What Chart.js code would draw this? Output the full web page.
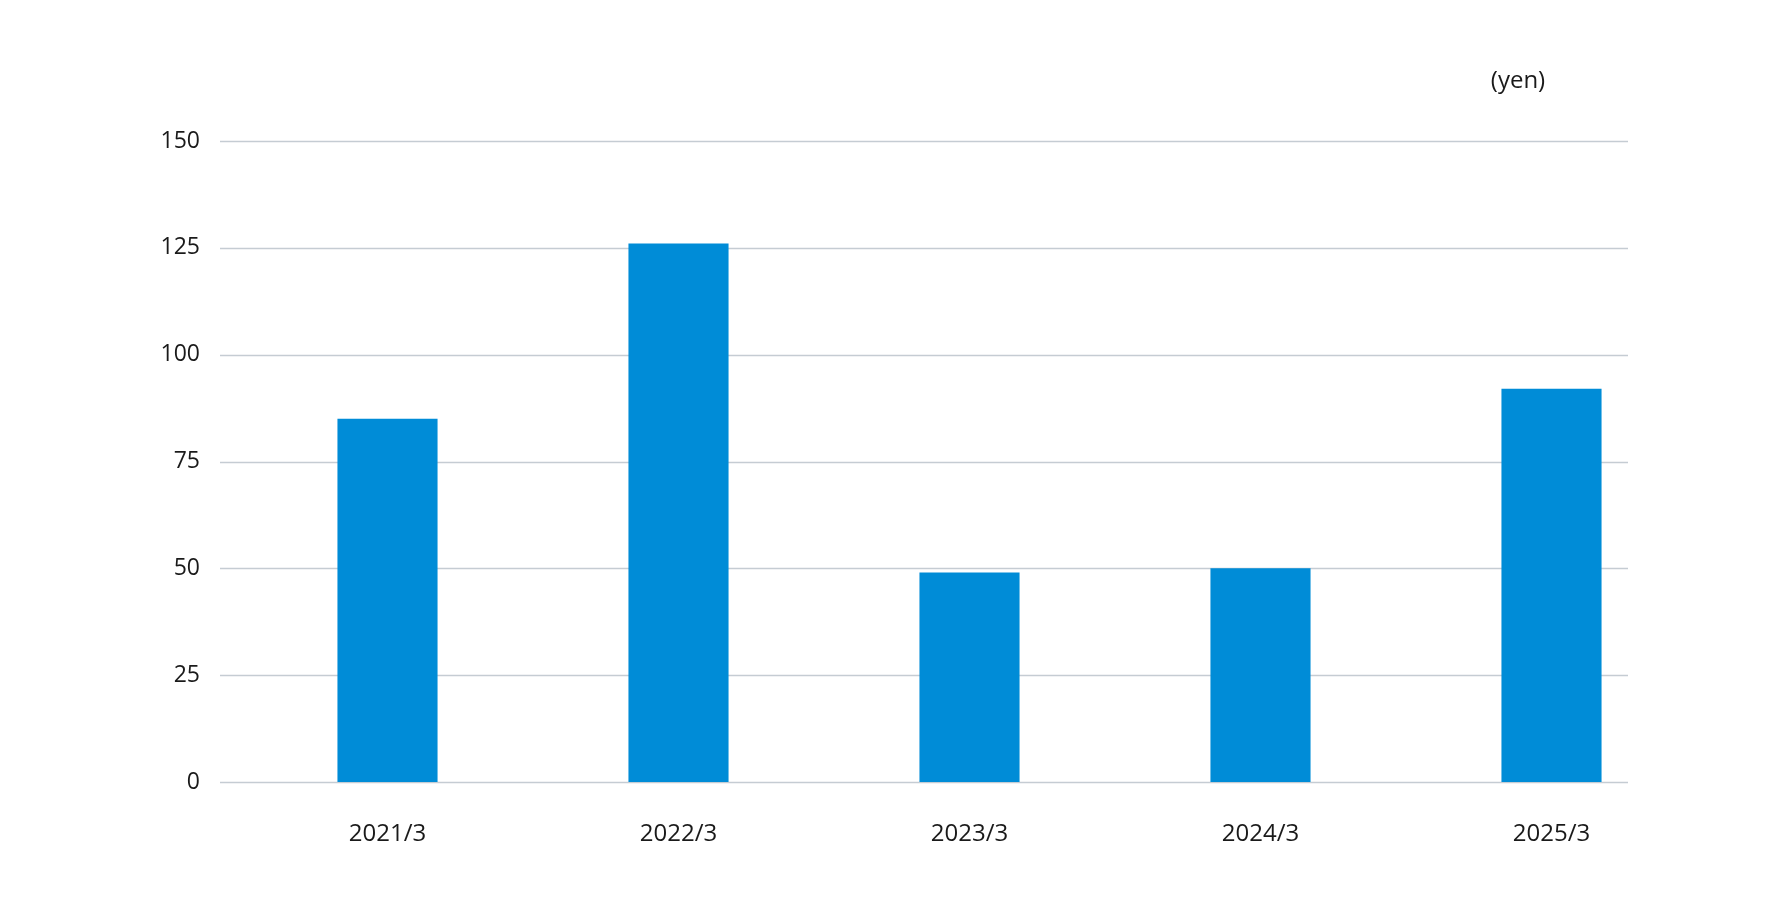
<!DOCTYPE html>
<html><head><meta charset="utf-8">
<script src="https://cdn.jsdelivr.net/npm/chart.js@4/dist/chart.umd.min.js"></script>
<style>html,body{margin:0;padding:0;background:#fff}#w{width:1780px;height:910px;position:relative}</style>
</head><body><div id="w"><canvas id="c"></canvas></div>
<script>
const categories = ["2021/3","2022/3","2023/3","2024/3","2025/3"];
const dividends = [85,126,49,50,92];
const yTicks = [0,25,50,75,100,125,150];
const unitLabel = "(yen)";

const gridPlugin = {
  id:'grid',
  beforeDatasetsDraw(chart){
    const ctx=chart.ctx, y=chart.scales.y;
    ctx.save(); ctx.strokeStyle='#c5ccd3'; ctx.lineWidth=1.3;
    yTicks.forEach(v=>{const py=Math.round(y.getPixelForValue(v))+0.5;
      ctx.beginPath(); ctx.moveTo(220,py); ctx.lineTo(1628,py); ctx.stroke();});
    ctx.fillStyle='#1a1a1a'; ctx.font='24px "Open Sans"'; ctx.textAlign='center'; ctx.textBaseline='middle';
    ctx.fillText(unitLabel,1518,81);
    ctx.restore();
  }
};
new Chart(document.getElementById('c'),{
  type:'bar',
  data:{labels:categories,datasets:[{data:dividends,backgroundColor:'#008cd7',barPercentage:0.344,categoryPercentage:1}]},
  options:{responsive:true,maintainAspectRatio:false,animation:false,
    layout:{padding:{top:141,right:83,left:0,bottom:0}},
    plugins:{legend:{display:false},tooltip:{enabled:false}},
    scales:{
      x:{grid:{display:false,drawTicks:false},border:{display:false},
        ticks:{color:'#1a1a1a',font:{family:'Open Sans',size:24},padding:38},
        afterFit(s){s.height=128;}},
      y:{min:0,max:150,grid:{display:false,drawTicks:false},border:{display:false},
        afterBuildTicks(s){s.ticks=yTicks.map(v=>({value:v}));},
        ticks:{color:'#1a1a1a',font:{family:'Open Sans',size:23},padding:42},
        afterFit(s){s.width=242;}}
    }},
  plugins:[gridPlugin]
});
</script></body></html>
